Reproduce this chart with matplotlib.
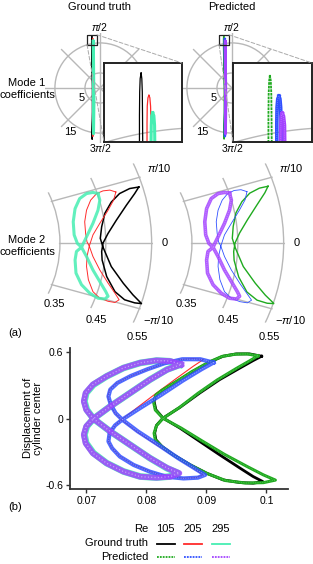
import numpy as np
import matplotlib.pyplot as plt
from matplotlib.lines import Line2D
from matplotlib.patches import ConnectionPatch

plt.rcParams['font.family'] = ['Liberation Sans', 'DejaVu Sans']
plt.rcParams['font.size'] = 8
plt.rcParams['mathtext.fontset'] = 'custom'
plt.rcParams['mathtext.it'] = 'Liberation Sans:italic'
plt.rcParams['mathtext.rm'] = 'Liberation Sans'

# figure size in pixels (dpi 100)
W, H = 313, 564

re_values = ['105', '205', '295']
gt_colors = ['#000000', '#ff2b2b', '#46eeb2']
pred_colors = ['#1faa1f', '#3050ff', '#a443ff']

# Mode 1 coefficients (a1, a2), one closed loop per Re
m1_gt_105 = [(-2.73, 17.28), (-2.77, 17.05), (-2.79, 16.5), (-2.80, 15.5), (-2.80, 14.0), (-2.70, 8.0),
             (-2.55, 0.0), (-2.55, -8.0), (-2.68, -14.0), (-2.68, -15.5), (-2.66, -16.5), (-2.62, -17.1),
             (-2.57, -16.6), (-2.55, -15.5), (-2.54, -14.0), (-2.40, -8.0), (-2.42, 0.0), (-2.58, 8.0),
             (-2.66, 14.0), (-2.67, 15.5), (-2.68, 16.5), (-2.70, 17.05)]
m1_gt_205 = [(-2.40, 16.35), (-2.44, 16.25), (-2.47, 15.9), (-2.48, 15.2), (-2.48, 14.0), (-2.38, 6.0),
             (-2.30, -4.0), (-2.42, -13.5), (-2.43, -15.0), (-2.40, -15.9), (-2.35, -16.1), (-2.30, -15.9),
             (-2.28, -15.0), (-2.28, -13.5), (-2.16, -4.0), (-2.24, 6.0), (-2.31, 14.0), (-2.31, 15.2),
             (-2.33, 15.9), (-2.36, 16.25)]
m1_gt_295 = [(-2.24, 15.62), (-2.28, 15.5), (-2.30, 15.1), (-2.31, 14.3), (-2.22, 5.0), (-2.12, -5.0),
             (-2.22, -13.8), (-2.20, -14.8), (-2.16, -15.3), (-2.12, -14.8), (-2.10, -13.8), (-1.98, -5.0),
             (-2.08, 5.0), (-2.15, 14.3), (-2.16, 15.1), (-2.19, 15.5)]
m1_pr_105 = [(-2.76, 17.2), (-2.79, 16.95), (-2.81, 16.4), (-2.82, 15.5), (-2.82, 14.0), (-2.72, 8.0),
             (-2.57, 0.0), (-2.57, -8.0), (-2.70, -14.0), (-2.70, -15.5), (-2.68, -16.5), (-2.64, -17.0),
             (-2.59, -16.6), (-2.57, -15.5), (-2.56, -14.0), (-2.42, -8.0), (-2.44, 0.0), (-2.60, 8.0),
             (-2.68, 14.0), (-2.69, 15.5), (-2.70, 16.4), (-2.72, 16.95)]
m1_pr_205 = [(-2.38, 16.32), (-2.43, 16.2), (-2.46, 15.85), (-2.47, 15.2), (-2.47, 14.0), (-2.37, 6.0),
             (-2.29, -4.0), (-2.41, -13.5), (-2.42, -15.0), (-2.39, -15.9), (-2.34, -16.1), (-2.29, -15.9),
             (-2.27, -15.0), (-2.27, -13.5), (-2.15, -4.0), (-2.23, 6.0), (-2.29, 14.0), (-2.29, 15.2),
             (-2.31, 15.85), (-2.34, 16.2)]
m1_pr_295 = [(-2.24, 15.6), (-2.28, 15.48), (-2.30, 15.1), (-2.31, 14.3), (-2.22, 5.0), (-2.12, -5.0),
             (-2.22, -13.8), (-2.20, -14.8), (-2.16, -15.3), (-2.12, -14.8), (-2.10, -13.8), (-1.98, -5.0),
             (-2.08, 5.0), (-2.14, 14.3), (-2.15, 15.1), (-2.19, 15.48)]

# Mode 2 coefficients (a3, a4)
m2_gt_105 = [(0.522, 0.145), (0.502, 0.141), (0.480, 0.128), (0.462, 0.106), (0.448, 0.077), (0.441, 0.042),
             (0.438, 0.012), (0.444, -0.011), (0.462, -0.061), (0.488, -0.104), (0.509, -0.134), (0.528, -0.157),
             (0.513, -0.155), (0.491, -0.147), (0.470, -0.126), (0.452, -0.087), (0.442, -0.044), (0.441, -0.022),
             (0.444, 0.0), (0.455, 0.025), (0.473, 0.059), (0.495, 0.098), (0.513, 0.128)]
m2_gt_205 = [(0.472, 0.132), (0.459, 0.137), (0.444, 0.135), (0.430, 0.128), (0.417, 0.111), (0.408, 0.085),
             (0.404, 0.055), (0.406, 0.025), (0.409, 0.003), (0.414, -0.008), (0.422, -0.035), (0.437, -0.070),
             (0.455, -0.104), (0.470, -0.130), (0.479, -0.147), (0.470, -0.154), (0.455, -0.151), (0.437, -0.143),
             (0.422, -0.126), (0.412, -0.095), (0.408, -0.061), (0.409, -0.035), (0.414, -0.008), (0.422, 0.021),
             (0.437, 0.051), (0.455, 0.085), (0.467, 0.111)]
m2_gt_295 = [(0.433, 0.128), (0.422, 0.131), (0.408, 0.128), (0.393, 0.115), (0.383, 0.089), (0.379, 0.055),
             (0.381, 0.021), (0.388, -0.001), (0.397, -0.011), (0.408, -0.035), (0.422, -0.070), (0.437, -0.100),
             (0.450, -0.126), (0.455, -0.138), (0.448, -0.145), (0.433, -0.143), (0.415, -0.130), (0.397, -0.108),
             (0.385, -0.078), (0.383, -0.044), (0.386, -0.022), (0.397, -0.011), (0.408, 0.016), (0.422, 0.051),
             (0.433, 0.085), (0.437, 0.111)]
m2_pr_105 = [(0.516, 0.147), (0.497, 0.142), (0.476, 0.129), (0.459, 0.107), (0.446, 0.078), (0.440, 0.043),
             (0.438, 0.012), (0.444, -0.011), (0.462, -0.061), (0.488, -0.104), (0.510, -0.135), (0.529, -0.157),
             (0.514, -0.156), (0.492, -0.148), (0.470, -0.127), (0.452, -0.088), (0.442, -0.045), (0.441, -0.022),
             (0.444, 0.0), (0.454, 0.026), (0.471, 0.060), (0.492, 0.099), (0.509, 0.130)]
m2_pr_205 = [(0.470, 0.133), (0.457, 0.138), (0.442, 0.136), (0.428, 0.128), (0.416, 0.111), (0.407, 0.085),
             (0.403, 0.055), (0.405, 0.025), (0.408, 0.003), (0.413, -0.008), (0.421, -0.035), (0.436, -0.070),
             (0.454, -0.104), (0.470, -0.131), (0.480, -0.148), (0.471, -0.155), (0.455, -0.152), (0.437, -0.144),
             (0.421, -0.126), (0.411, -0.095), (0.407, -0.061), (0.408, -0.035), (0.413, -0.008), (0.421, 0.021),
             (0.436, 0.051), (0.454, 0.086), (0.466, 0.112)]
m2_pr_295 = [(0.432, 0.129), (0.421, 0.131), (0.407, 0.128), (0.392, 0.115), (0.382, 0.089), (0.378, 0.055),
             (0.380, 0.021), (0.387, -0.001), (0.396, -0.011), (0.407, -0.035), (0.421, -0.070), (0.436, -0.100),
             (0.449, -0.126), (0.454, -0.138), (0.447, -0.145), (0.432, -0.143), (0.414, -0.130), (0.396, -0.108),
             (0.384, -0.078), (0.382, -0.044), (0.385, -0.022), (0.396, -0.011), (0.407, 0.016), (0.421, 0.051),
             (0.432, 0.085), (0.436, 0.111)]

# (b) drag-like coefficient (x) vs displacement of cylinder center (y)
disp_gt_105 = [(0.0992, 0.562), (0.0972, 0.583), (0.0950, 0.583), (0.0928, 0.562), (0.0906, 0.511),
               (0.0878, 0.426), (0.0851, 0.336), (0.0828, 0.261), (0.0817, 0.216), (0.0813, 0.156),
               (0.0816, 0.081), (0.0828, 0.006), (0.0856, -0.084), (0.0889, -0.204), (0.0922, -0.324),
               (0.0956, -0.444), (0.0978, -0.520), (0.0994, -0.565), (0.0978, -0.580), (0.0956, -0.574),
               (0.0928, -0.550), (0.0900, -0.489), (0.0873, -0.414), (0.0845, -0.324), (0.0826, -0.249),
               (0.0816, -0.189), (0.0814, -0.129), (0.0817, -0.060), (0.0828, 0.006), (0.0856, 0.102),
               (0.0889, 0.231), (0.0922, 0.351), (0.0956, 0.456), (0.0978, 0.523)]
disp_gt_205 = [(0.0895, 0.532), (0.0878, 0.541), (0.0856, 0.532), (0.0828, 0.492), (0.0801, 0.441),
               (0.0773, 0.381), (0.0751, 0.321), (0.0739, 0.261), (0.0736, 0.201), (0.0740, 0.126),
               (0.0748, 0.051), (0.0759, -0.009), (0.0784, -0.114), (0.0817, -0.234), (0.0851, -0.354),
               (0.0878, -0.444), (0.0895, -0.505), (0.0884, -0.529), (0.0862, -0.535), (0.0834, -0.520),
               (0.0806, -0.474), (0.0779, -0.414), (0.0756, -0.339), (0.0743, -0.264), (0.0737, -0.204),
               (0.0739, -0.129), (0.0748, -0.060), (0.0759, -0.009), (0.0784, 0.096), (0.0817, 0.231),
               (0.0851, 0.366), (0.0878, 0.471)]
disp_gt_295 = [(0.0856, 0.486), (0.0839, 0.517), (0.0817, 0.523), (0.0790, 0.502), (0.0762, 0.456),
               (0.0734, 0.381), (0.0712, 0.306), (0.0700, 0.231), (0.0697, 0.156), (0.0701, 0.081),
               (0.0712, 0.0), (0.0740, -0.114), (0.0773, -0.234), (0.0806, -0.354), (0.0834, -0.444),
               (0.0853, -0.489), (0.0839, -0.520), (0.0817, -0.529), (0.0790, -0.520), (0.0762, -0.474),
               (0.0734, -0.399), (0.0712, -0.309), (0.0700, -0.219), (0.0697, -0.144), (0.0701, -0.069),
               (0.0712, 0.0), (0.0740, 0.111), (0.0773, 0.231), (0.0806, 0.351), (0.0834, 0.441)]
disp_pr_105 = [(0.0986, 0.565), (0.0968, 0.583), (0.0948, 0.580), (0.0926, 0.560), (0.0904, 0.508),
               (0.0876, 0.424), (0.0850, 0.334), (0.0827, 0.259), (0.0816, 0.214), (0.0812, 0.154),
               (0.0815, 0.079), (0.0828, 0.004), (0.0858, -0.084), (0.0893, -0.200), (0.0930, -0.320),
               (0.0968, -0.430), (0.0995, -0.505), (0.1015, -0.552), (0.0995, -0.575), (0.0965, -0.578),
               (0.0932, -0.556), (0.0902, -0.494), (0.0874, -0.418), (0.0845, -0.326), (0.0826, -0.250),
               (0.0815, -0.190), (0.0813, -0.130), (0.0817, -0.062), (0.0828, 0.004), (0.0855, 0.100),
               (0.0886, 0.228), (0.0918, 0.348), (0.0950, 0.452), (0.0972, 0.520)]
disp_pr_205 = [(0.0912, 0.505), (0.0890, 0.535), (0.0860, 0.535), (0.0830, 0.498), (0.0802, 0.445),
               (0.0774, 0.384), (0.0752, 0.322), (0.0740, 0.262), (0.0737, 0.200), (0.0741, 0.125),
               (0.0749, 0.050), (0.0760, -0.008), (0.0786, -0.114), (0.0820, -0.234), (0.0853, -0.354),
               (0.0880, -0.444), (0.0898, -0.505), (0.0886, -0.530), (0.0862, -0.537), (0.0834, -0.522),
               (0.0806, -0.476), (0.0779, -0.416), (0.0756, -0.340), (0.0743, -0.265), (0.0737, -0.204),
               (0.0739, -0.128), (0.0748, -0.060), (0.0760, -0.008), (0.0788, 0.090), (0.0825, 0.215),
               (0.0860, 0.340), (0.0892, 0.445)]
disp_pr_295 = [(0.0858, 0.488), (0.0840, 0.518), (0.0817, 0.524), (0.0790, 0.503), (0.0762, 0.457),
               (0.0734, 0.382), (0.0711, 0.307), (0.0699, 0.232), (0.0696, 0.156), (0.0700, 0.081),
               (0.0712, 0.0), (0.0740, -0.114), (0.0773, -0.234), (0.0806, -0.354), (0.0835, -0.444),
               (0.0855, -0.490), (0.0840, -0.521), (0.0817, -0.530), (0.0790, -0.521), (0.0762, -0.475),
               (0.0734, -0.400), (0.0711, -0.310), (0.0699, -0.220), (0.0696, -0.144), (0.0700, -0.069),
               (0.0712, 0.0), (0.0740, 0.111), (0.0773, 0.231), (0.0806, 0.351), (0.0835, 0.442)]

m1_gt = [m1_gt_105, m1_gt_205, m1_gt_295]
m1_pr = [m1_pr_105, m1_pr_205, m1_pr_295]
m2_gt = [m2_gt_105, m2_gt_205, m2_gt_295]
m2_pr = [m2_pr_105, m2_pr_205, m2_pr_295]
disp_gt = [disp_gt_105, disp_gt_205, disp_gt_295]
disp_pr = [disp_pr_105, disp_pr_205, disp_pr_295]

# zoom window for mode 1 insets (a1 range, a2 range)
zoom_x = (-4.3, -1.0)
zoom_y = (14.4, 17.7)

GRID = '#b8b8b8'


def px_axes(fig, x0, y0, x1, y1, **kw):
    # axes from pixel box measured from top-left
    return fig.add_axes([x0 / W, 1 - y1 / H, (x1 - x0) / W, (y1 - y0) / H], **kw)


def closed(pts):
    a = np.array(list(pts) + [pts[0]])
    return a[:, 0], a[:, 1]


def to_polar(x, y):
    return np.arctan2(y, x), np.hypot(x, y)


def draw(ax, x, y, color, lw, alpha=1.0, dots=False, ls='-'):
    ax.plot(x, y, color=color, lw=lw, alpha=alpha, ls=ls, solid_joinstyle='round')
    if dots:
        # predicted trajectories are dotted: faint white specks along the band
        ax.plot(x, y, color='white', lw=max(lw * 0.22, 0.4), ls=(0, (0.8, 1.8)), alpha=0.45)


# line styles: (lw, alpha, dots, ls) per Re
m1_main_gt = [(0.9, 1, False, '-'), (0.9, 1, False, '-'), (2.0, 1, False, '-')]
m1_main_pr = [(1.0, 1, False, '-'), (1.6, 1, False, '-'), (1.8, 1, False, '-')]
m1_ins_gt = [(0.9, 1, False, '-'), (0.9, 1, False, '-'), (2.2, 1, False, '-')]
m1_ins_pr = [(1.3, 1, False, (0, (1.5, 0.5))), (2.6, 1, True, '-'), (2.6, 1, True, '-')]
m2_gt_style = [(1.1, 1, False, '-'), (0.7, 1, False, '-'), (2.2, 0.85, False, '-')]
m2_pr_style = [(1.0, 1, False, '-'), (0.6, 1, False, '-'), (2.6, 0.85, True, '-')]
b_gt_style = [(2.0, 1, False, '-'), (0.8, 1, False, '-'), (4.8, 0.9, False, '-')]
b_pr_style = [(2.2, 1, True, '-'), (3.0, 0.85, True, '-'), (4.2, 0.85, True, '-')]

fig = plt.figure(figsize=(W / 100, H / 100), dpi=100)

panels = [(100, 104, 182, m1_gt, m2_gt, gt_colors, m1_main_gt, m1_ins_gt, m2_gt_style, 'Ground truth'),
          (232, 233, 312, m1_pr, m2_pr, pred_colors, m1_main_pr, m1_ins_pr, m2_pr_style, 'Predicted')]

m1_axes = []
for cx, ix0, ix1, m1, m2, cols, st_main, st_ins, st2, title in panels:
    # ---- mode 1, full polar plot
    ax = px_axes(fig, cx - 55, 33, cx + 55, 143, projection='polar')
    ax.set_rlim(0, 18.3)
    ax.set_thetagrids(range(0, 360, 45), labels=[''] * 8)
    ax.set_rgrids([5, 15], labels=['', ''])
    ax.grid(color=GRID, lw=1.0)
    ax.spines['polar'].set_color('none')
    for pts, c, (lw, al, dots, ls) in zip(m1, cols, st_main):
        th, r = to_polar(*closed(pts))
        draw(ax, th, r, c, lw, al, dots, ls)
    ax.text(np.pi / 2, 20.3, r'$\pi$/2', ha='center', va='center', fontsize=7.5)
    ax.text(3 * np.pi / 2, 19.8, r'3$\pi$/2', ha='center', va='center', fontsize=7.5)
    ax.text(np.deg2rad(209), 6.9, '5', ha='center', va='center', fontsize=8)
    ax.text(np.deg2rad(236), 17.8, '15', ha='center', va='center', fontsize=8)
    # zoom box
    bx = [zoom_x[0], zoom_x[1], zoom_x[1], zoom_x[0], zoom_x[0]]
    by = [zoom_y[0], zoom_y[0], zoom_y[1], zoom_y[1], zoom_y[0]]
    th, r = to_polar(np.array(bx), np.array(by))
    ax.plot(th, r, color='#222222', lw=0.9)
    m1_axes.append((ax, th, r))

    fig.text(cx / W, 1 - 7 / H, title, ha='center', va='center', fontsize=8)

    # ---- mode 2, sector polar plot
    ax2 = px_axes(fig, cx - 95, 163, cx + 95, 323, projection='polar')
    ax2.set_thetamin(-22)
    ax2.set_thetamax(22)
    ax2.set_rorigin(0)
    ax2.set_rlim(0.347, 0.553)
    ax2.set_aspect('auto')
    ax2.set_thetagrids([-18, 0, 18], labels=['', '', ''])
    ax2.set_rgrids([0.35, 0.45, 0.55], labels=['', '', ''])
    ax2.grid(color=GRID, lw=1.0)
    ax2.tick_params(length=0)
    for sp in ax2.spines.values():
        sp.set_color('none')
        sp.set_linewidth(0)
    ax2.patch.set_alpha(0)
    for pts, c, (lw, al, dots, ls) in zip(m2, cols, st2):
        th, r = to_polar(*closed(pts))
        draw(ax2, th, r, c, lw, al, dots, ls)
    for rv in [0.35, 0.45, 0.55]:
        ax2.text(np.deg2rad(-25), rv + 0.023, f'{rv:.2f}', ha='center', va='center', fontsize=8)
    ax2.text(np.deg2rad(19), 0.6, r'$\pi$/10', ha='center', va='center', fontsize=8)
    ax2.text(0, 0.578, '0', ha='center', va='center', fontsize=8)
    ax2.text(np.deg2rad(-19.5), 0.6, r'−$\pi$/10', ha='center', va='center', fontsize=8)

# insets drawn on top of the polar plots
for (cx, ix0, ix1, m1, m2, cols, st_main, st_ins, st2, title), (ax, bth, br) in zip(panels, m1_axes):
    axi = px_axes(fig, ix0, 63, ix1, 142)
    axi.set_xlim(*zoom_x)
    axi.set_ylim(*zoom_y)
    axi.set_xticks([])
    axi.set_yticks([])
    for sp in axi.spines.values():
        sp.set_linewidth(1.4)
        sp.set_color('#222222')
    arc_x = np.linspace(zoom_x[0], zoom_x[1], 60)
    axi.plot(arc_x, np.sqrt(15 ** 2 - arc_x ** 2), color=GRID, lw=1.0)
    for pts, c, (lw, al, dots, ls) in zip(m1, cols, st_ins):
        x, y = closed(pts)
        draw(axi, x, y, c, lw, al, dots, ls)
    # connectors: box upper right -> inset upper right, box lower left -> inset lower left
    for k, corner in [(2, (1, 1)), (0, (0, 0))]:
        con = ConnectionPatch(xyA=(bth[k], br[k]), coordsA='data', axesA=ax,
                              xyB=corner, coordsB='axes fraction', axesB=axi,
                              color='#aaaaaa', lw=0.7, ls=(0, (4, 2)))
        fig.add_artist(con)

fig.text(55 / W, 1 - 89 / H, 'Mode 1\ncoefficients', ha='right', va='center',
         multialignment='center', fontsize=8, linespacing=1.15)
fig.text(55 / W, 1 - 246 / H, 'Mode 2\ncoefficients', ha='right', va='center',
         multialignment='center', fontsize=8, linespacing=1.15)
fig.text(15 / W, 1 - 333 / H, '(a)', ha='center', va='center', fontsize=8)
fig.text(15 / W, 1 - 507 / H, '(b)', ha='center', va='center', fontsize=8)

# ---- (b) phase portrait
axb = px_axes(fig, 70, 348, 288, 489)
for pts, c, (lw, al, dots, ls) in zip(disp_gt, gt_colors, b_gt_style):
    x, y = closed(pts)
    draw(axb, x, y, c, lw, al, dots, ls)
for pts, c, (lw, al, dots, ls) in zip(disp_pr, pred_colors, b_pr_style):
    x, y = closed(pts)
    draw(axb, x, y, c, lw, al, dots, ls)
axb.set_xlim(0.0673, 0.1036)
axb.set_ylim(-0.632, 0.636)
axb.set_xticks([0.07, 0.08, 0.09, 0.1])
axb.set_xticklabels(['0.07', '0.08', '0.09', '0.1'])
axb.set_yticks([-0.6, 0, 0.6])
axb.set_yticklabels(['-0.6', '0', '0.6'])
axb.spines['top'].set_visible(False)
axb.spines['right'].set_visible(False)
for s in ['left', 'bottom']:
    axb.spines[s].set_linewidth(1.3)
    axb.spines[s].set_color('#333333')
axb.tick_params(length=3, width=1, color='#333333', labelsize=7.5, pad=2)
axb.patch.set_alpha(0)
fig.text(33 / W, 1 - 418 / H, 'Displacement of\ncylinder center', rotation=90, ha='center',
         va='center', multialignment='center', fontsize=8, linespacing=1.1)

# ---- legend
fig.text(148 / W, 1 - 529 / H, 'Re', ha='right', va='center', fontsize=8)
fig.text(148 / W, 1 - 543 / H, 'Ground truth', ha='right', va='center', fontsize=8)
fig.text(148 / W, 1 - 557 / H, 'Predicted', ha='right', va='center', fontsize=8)
leg_x = [165.5, 193, 221]
for xc, lab, cg, cp in zip(leg_x, re_values, gt_colors, pred_colors):
    fig.text(xc / W, 1 - 529 / H, lab, ha='center', va='center', fontsize=8)
    fig.add_artist(Line2D([(xc - 9) / W, (xc + 9) / W], [1 - 544 / H] * 2, color=cg, lw=1.3,
                          transform=fig.transFigure))
    fig.add_artist(Line2D([(xc - 9) / W, (xc + 9) / W], [1 - 557 / H] * 2, color=cp, lw=1.3,
                          ls=(0, (1, 0.6)), transform=fig.transFigure))

fig.savefig('out.png', dpi=100)
